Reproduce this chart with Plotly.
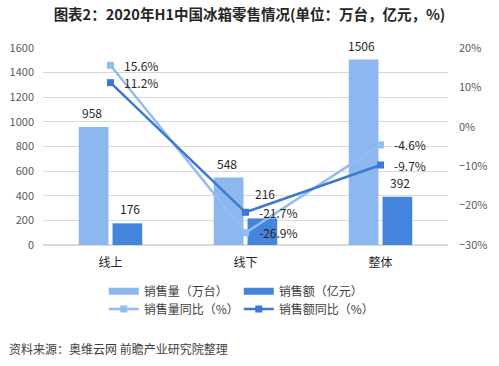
import plotly.graph_objects as go

categories = ["线上", "线下", "整体"]
sales_volume = [958, 548, 1506]        # 销售量（万台）
sales_amount = [176, 216, 392]         # 销售额（亿元）
volume_yoy = [15.6, -26.9, -4.6]       # 销售量同比（%）
amount_yoy = [11.2, -21.7, -9.7]       # 销售额同比（%）

C_LIGHT = "#8DB7EF"
C_DARK = "#4584DC"
C_LLINE = "#93BCF0"
C_DLINE = "#3B79D3"
FONT = "Noto Sans CJK SC"
LBL = dict(size=12, color="#262626", family=FONT)

fig = go.Figure()
fig.add_trace(go.Bar(x=categories, y=sales_volume, name="销售量（万台）",
                     marker=dict(color=C_LIGHT, line=dict(width=0)), showlegend=False))
fig.add_trace(go.Bar(x=categories, y=sales_amount, name="销售额（亿元）",
                     marker=dict(color=C_DARK, line=dict(width=0)), showlegend=False))
# legend swatches for the bars (wide flat rectangles like the original)
fig.add_trace(go.Scatter(x=[None], y=[None], mode="lines", name="销售量（万台）",
                         line=dict(color=C_LIGHT, width=7), legend="legend"))
fig.add_trace(go.Scatter(x=[None], y=[None], mode="lines", name="销售额（亿元）",
                         line=dict(color=C_DARK, width=7), legend="legend"))
fig.add_trace(go.Scatter(x=categories, y=volume_yoy, name="销售量同比（%）", yaxis="y2",
                         mode="lines+markers",
                         line=dict(color=C_LLINE, width=2.5),
                         marker=dict(symbol="square", size=7, color=C_LLINE),
                         legend="legend2"))
fig.add_trace(go.Scatter(x=categories, y=amount_yoy, name="销售额同比（%）", yaxis="y2",
                         mode="lines+markers",
                         line=dict(color=C_DLINE, width=2.5),
                         marker=dict(symbol="square", size=7, color=C_DLINE),
                         legend="legend2"))

# bar value labels
for i, c in enumerate(categories):
    fig.add_annotation(x=c, y=sales_volume[i], xref="x", yref="y", xshift=-19, yshift=4,
                       yanchor="bottom", showarrow=False, text=str(sales_volume[i]), font=LBL)
    fig.add_annotation(x=c, y=sales_amount[i], xref="x", yref="y", xshift=19,
                       yshift=14 if i == 1 else 4,
                       yanchor="bottom", showarrow=False, text=str(sales_amount[i]), font=LBL)
    # percent labels
    fig.add_annotation(x=c, y=volume_yoy[i], xref="x", yref="y2", xshift=11,
                       xanchor="left", yanchor="middle", showarrow=False,
                       text=f"{volume_yoy[i]}%", font=LBL)
    fig.add_annotation(x=c, y=amount_yoy[i], xref="x", yref="y2", xshift=11,
                       xanchor="left", yanchor="middle", showarrow=False,
                       text=f"{amount_yoy[i]}%", font=LBL)

fig.add_annotation(x=-0.09, y=-0.525, xref="paper", yref="paper",
                   xanchor="left", yanchor="middle",
                   text="资料来源：奥维云网 前瞻产业研究院整理", showarrow=False,
                   font=dict(size=12, color="#404040", family=FONT))

fig.update_layout(
    width=499, height=366,
    margin=dict(l=43, r=51, t=48, b=121),
    paper_bgcolor="white", plot_bgcolor="white",
    barmode="group", bargap=0.5, bargroupgap=0.12,
    font=dict(family=FONT, color="#595959"),
    title=dict(text="<b>图表2：2020年H1中国冰箱零售情况(单位：万台，亿元，%)</b>",
               x=0.5, xref="container", xanchor="center",
               y=0.958, yref="container", yanchor="middle",
               font=dict(size=14.5, color="#262626", family=FONT)),
    xaxis=dict(type="category", tickfont=dict(size=12, color="#262626"),
               showline=False, ticks="", range=[-0.5, 2.5], automargin=False,
               ticklabelstandoff=9),
    yaxis=dict(range=[0, 1600], dtick=200, showgrid=True, gridcolor="#D9D9D9",
               gridwidth=1, zeroline=True, zerolinecolor="#D9D9D9",
               tickfont=dict(size=11, color="#595959"), ticklabelstandoff=8,
               automargin=False),
    yaxis2=dict(range=[-30, 20], dtick=10, ticksuffix="%", overlaying="y", side="right",
                showgrid=False, zeroline=False, tickfont=dict(size=11, color="#595959"),
                ticklabelstandoff=10, automargin=False),
    legend=dict(orientation="h", x=0.15, xanchor="left", y=-0.235, yanchor="middle",
                font=dict(size=12, color="#404040"), entrywidth=90, traceorder="normal",
                bgcolor="rgba(0,0,0,0)"),
    legend2=dict(orientation="h", x=0.15, xanchor="left", y=-0.325, yanchor="middle",
                 font=dict(size=12, color="#404040"), entrywidth=90, traceorder="normal",
                 bgcolor="rgba(0,0,0,0)"),
)

fig.write_html("out.html", config={"displayModeBar": False},
               post_script="document.body.style.margin='0';")
